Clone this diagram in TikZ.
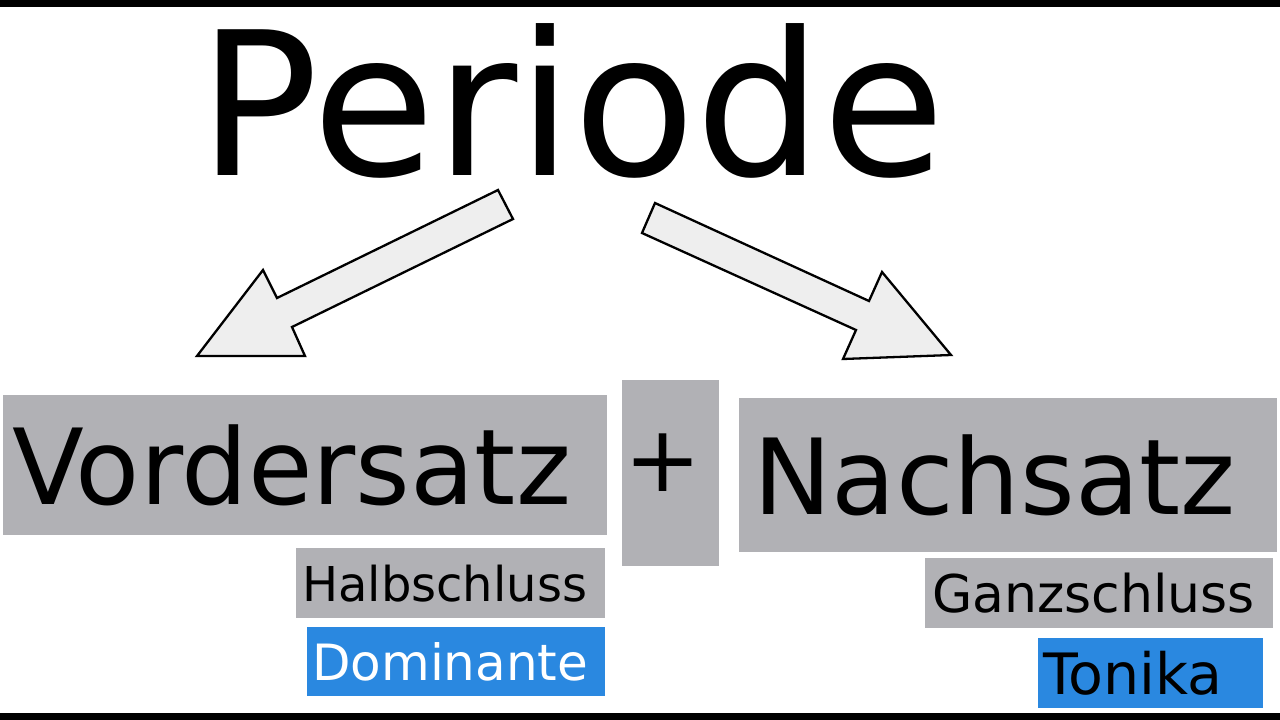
\documentclass[tikz,border=0pt]{standalone}
\usepackage{fontspec}
\setmainfont{DejaVu Sans}
\usepackage{tikz}
\usetikzlibrary{calc, positioning}

\definecolor{boxgrey}{RGB}{177,177,181}
\definecolor{keyblue}{RGB}{42,136,224}
\definecolor{arrowfill}{RGB}{238,238,238}

\tikzset{
  greybox/.style={fill=boxgrey, inner ysep=0pt, align=left, anchor=north west},
  bluebox/.style={fill=keyblue, inner ysep=0pt, align=left, anchor=north west},
  bigarrow/.style={fill=arrowfill, draw=black, line width=2.3pt, line join=miter},
  fsize/.style={font=\fontsize{#1}{#1}\selectfont}
}

\begin{document}
\begin{tikzpicture}[x=1pt,y=-1pt]
  \useasboundingbox (0,0) rectangle (1280,720);
  \fill[black] (0,0) rectangle (1280,7);
  \fill[black] (0,713) rectangle (1280,720);

  \node[fsize=200] (periode) at (572,101) {Periode};

  % block arrows
  \draw[bigarrow] (498,190) -- (513,219) -- (292,327) -- (305,356)
    -- (197,356) -- (263,270) -- (277,298) -- cycle;
  \draw[bigarrow] (655,203) -- (642,233) -- (856,330) -- (843,359)
    -- (951,355) -- (882,272) -- (869,301) -- cycle;

  \node[greybox, fsize=105, inner xsep=9pt, text width=586pt, minimum height=140pt]
    (vorder) at (3,395) {Vordersatz};
  \node[greybox, fsize=95, inner sep=0pt, minimum width=97pt, minimum height=186pt]
    (plus) at (622,380) {};
  \node[fsize=92] (plussign) at (663,463) {+};
  \node[greybox, fsize=105, inner xsep=14pt, text width=510pt, minimum height=154pt]
    (nach) at (739,398) {Nachsatz};

  \node[greybox, fsize=48, inner xsep=6pt, text width=297pt, minimum height=70pt]
    (halb) at (296,548) {Halbschluss};
  \node[bluebox, fsize=50, text=white, inner xsep=5pt, text width=288pt, minimum height=69pt]
    (dom) at (307,627) {Dominante};

  \node[greybox, fsize=52, inner xsep=7pt, text width=334pt, minimum height=70pt]
    (ganz) at (925,558) {Ganzschluss};
  \node[bluebox, fsize=57, inner xsep=5pt, text width=215pt, minimum height=70pt]
    (ton) at (1038,638) {Tonika};
\end{tikzpicture}
\end{document}
